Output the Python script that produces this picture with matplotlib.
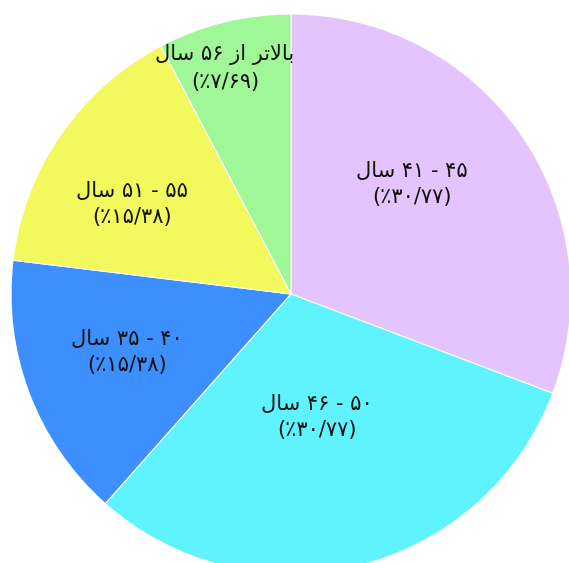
import matplotlib
matplotlib.use("Agg")
import matplotlib.pyplot as plt

# age groups (logical persian text), number of people in each group
age_groups = ["۴۵ - ۴۱ سال", "۵۰ - ۴۶ سال", "۴۰ - ۳۵ سال", "۵۵ - ۵۱ سال", "بالاتر از ۵۶ سال"]
counts = [4, 4, 2, 2, 1]
colors = ["#E4C4FC", "#5FF4FD", "#3D8FFD", "#F1F95C", "#9FF797"]

# where the labels sit (data units, pie radius = 1)
label_xy = [(0.432, 0.393), (0.093, -0.439), (-0.586, -0.207), (-0.568, 0.321), (-0.236, 0.807)]

# matplotlib has no arabic shaping, so do it by hand for the few letters used
# letter: (isolated, final, initial, medial)
FORMS = {
    "ب": ("\ufe8f", "\ufe90", "\ufe91", "\ufe92"),
    "ت": ("\ufe95", "\ufe96", "\ufe97", "\ufe98"),
    "س": ("\ufeb1", "\ufeb2", "\ufeb3", "\ufeb4"),
    "ل": ("\ufedd", "\ufede", "\ufedf", "\ufee0"),
    "ا": ("\ufe8d", "\ufe8e", None, None),
    "ر": ("\ufead", "\ufeae", None, None),
    "ز": ("\ufeaf", "\ufeb0", None, None),
}
FA_DIGITS = str.maketrans("0123456789.", "۰۱۲۳۴۵۶۷۸۹/")


def shape_word(word: str) -> str:
    "shape one persian word and return it in visual (left to right) order"
    out = []
    i = 0
    prev_joins = False
    while i < len(word):
        ch = word[i]
        if ch not in FORMS:
            out.append(ch)
            prev_joins = False
            i += 1
            continue
        # lam + alef ligature
        if ch == "ل" and i + 1 < len(word) and word[i + 1] == "ا":
            out.append("\ufefc" if prev_joins else "\ufefb")
            prev_joins = False
            i += 2
            continue
        nxt = word[i + 1] if i + 1 < len(word) else None
        joins_next = FORMS[ch][2] is not None and nxt in FORMS
        iso, fin, ini, med = FORMS[ch]
        if prev_joins and joins_next:
            out.append(med)
        elif prev_joins:
            out.append(fin)
        elif joins_next:
            out.append(ini)
        else:
            out.append(iso)
        prev_joins = joins_next
        i += 1
    return "".join(reversed(out))


def fa_visual(text: str) -> str:
    "very small bidi: reverse word order, shape arabic words"
    words = text.split(" ")
    return " ".join(shape_word(w) if any(c in FORMS for c in w) else w
                    for w in reversed(words))


plt.rcParams["font.family"] = ["DejaVu Sans"]

fig = plt.figure(figsize=(5.69, 5.63), dpi=100)
ax = fig.add_axes([11 / 569, -11 / 563, 560 / 569, 560 / 563])

ax.pie(counts, colors=colors, startangle=90, counterclock=False,
       wedgeprops=dict(edgecolor="white", linewidth=0.8))
ax.set_xlim(-1, 1)
ax.set_ylim(-1, 1)

total = sum(counts)
for name, n, (x, y) in zip(age_groups, counts, label_xy):
    pct = "%.2f" % (n / total * 100)
    line2 = "(٪" + pct.translate(FA_DIGITS) + ")"
    ax.text(x, y, fa_visual(name) + "\n" + line2, ha="center", va="center",
            fontsize=15, color="#111111", linespacing=1.4)

fig.savefig("out.png", dpi=100)
